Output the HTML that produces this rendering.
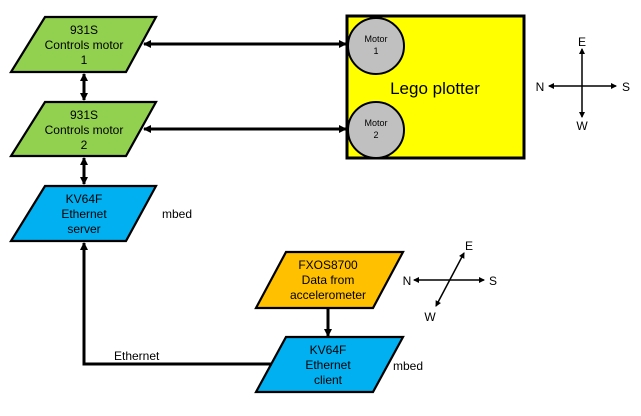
<!DOCTYPE html>
<html><head><style>body{margin:0;background:#fff}svg{display:block}text{font-family:"Liberation Sans",sans-serif;fill:#000}</style></head><body>
<svg width="641" height="416" viewBox="0 0 641 416" xmlns="http://www.w3.org/2000/svg">
<defs>
<marker id="a" markerWidth="8" markerHeight="8" refX="7" refY="4" orient="auto-start-reverse" markerUnits="userSpaceOnUse"><path d="M0,0L8,4L0,8z" fill="#000"/></marker>
<marker id="s" markerWidth="6" markerHeight="6" refX="5" refY="3" orient="auto-start-reverse" markerUnits="userSpaceOnUse"><path d="M0,0L6,3L0,6z" fill="#000"/></marker>
</defs>
<g stroke="#000" stroke-width="2.2" stroke-linejoin="miter">
<polygon points="45,17 156,17 126,72 11,72" fill="#92d050"/>
<polygon points="45,102 156,102 126,156 11,156" fill="#92d050"/>
<polygon points="45,186 156,186 126,241 11,241" fill="#00b0f0"/>
<polygon points="286,252 403,252 373,308 256,308" fill="#ffc000"/>
<polygon points="286,337 403,337 373,392 256,392" fill="#00b0f0"/>
</g>
<rect x="347" y="16" width="177" height="142" fill="#ffff00" stroke="#000" stroke-width="3"/>
<circle cx="376" cy="46" r="28" fill="#c0c0c0" stroke="#000" stroke-width="2"/>
<circle cx="376" cy="130" r="28" fill="#c0c0c0" stroke="#000" stroke-width="2"/>
<g stroke="#000" stroke-width="3" fill="none">
<line x1="144" y1="44" x2="346" y2="44" marker-start="url(#a)" marker-end="url(#a)"/>
<line x1="144" y1="129" x2="346" y2="129" marker-start="url(#a)" marker-end="url(#a)"/>
<line x1="84" y1="74" x2="84" y2="100" marker-start="url(#a)" marker-end="url(#a)"/>
<line x1="84" y1="158" x2="84" y2="184" marker-start="url(#a)" marker-end="url(#a)"/>
<line x1="328" y1="309" x2="328" y2="336" marker-end="url(#a)"/>
<polyline points="272,364 84,364 84,243" marker-end="url(#a)"/>
</g>
<g stroke="#000" stroke-width="1.5">
<line x1="549" y1="86" x2="616" y2="86" marker-start="url(#s)" marker-end="url(#s)"/>
<line x1="582" y1="49" x2="582" y2="117" marker-start="url(#s)" marker-end="url(#s)"/>
<line x1="414" y1="280" x2="484" y2="280" marker-start="url(#s)" marker-end="url(#s)"/>
<line x1="464" y1="253" x2="436" y2="306" marker-start="url(#s)" marker-end="url(#s)"/>
</g>
<g font-size="12" text-anchor="middle">
<text x="84" y="34">931S</text><text x="84" y="49">Controls motor</text><text x="84" y="64">1</text>
<text x="84" y="119">931S</text><text x="84" y="134">Controls motor</text><text x="84" y="149">2</text>
<text x="84" y="203">KV64F</text><text x="84" y="218">Ethernet</text><text x="84" y="233">server</text>
<text x="328" y="269">FXOS8700</text><text x="328" y="284">Data from</text><text x="328" y="299">accelerometer</text>
<text x="328" y="354">KV64F</text><text x="328" y="369">Ethernet</text><text x="328" y="384">client</text>
<text x="582" y="46">E</text><text x="540" y="91">N</text><text x="626" y="91">S</text><text x="582" y="130">W</text>
<text x="469" y="250">E</text><text x="407" y="285">N</text><text x="493" y="285">S</text><text x="430" y="321">W</text>
</g>
<g font-size="12">
<text x="162" y="218">mbed</text><text x="393" y="370">mbed</text><text x="114" y="360">Ethernet</text>
</g>
<g font-size="9" text-anchor="middle">
<text x="376" y="42">Motor</text><text x="376" y="54">1</text>
<text x="376" y="126">Motor</text><text x="376" y="138">2</text>
</g>
<text x="435" y="94" font-size="17" text-anchor="middle">Lego plotter</text>
</svg>
</body></html>
